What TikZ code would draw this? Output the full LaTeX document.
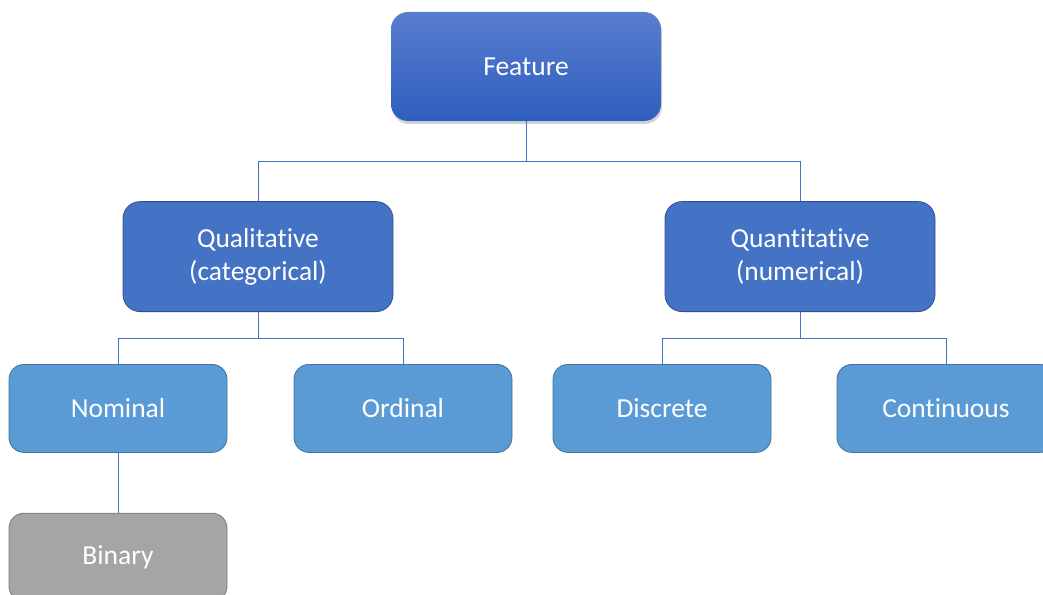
\documentclass[tikz,border=0pt]{standalone}
\usepackage{fontspec}
\setmainfont{Carlito}[Ligatures=NoCommon]
\usetikzlibrary{positioning,shadows}
\definecolor{topblue}{HTML}{5A7ECF}
\definecolor{botblue}{HTML}{2E5EBE}
\definecolor{midblue}{HTML}{4472C4}
\definecolor{midedge}{HTML}{2F528F}
\definecolor{lightblue}{HTML}{5B9BD5}
\definecolor{lightedge}{HTML}{41719C}
\definecolor{greyfill}{HTML}{A5A5A5}
\definecolor{greyedge}{HTML}{787878}
\tikzset{
  box/.style={rounded corners=17pt, text=white, align=center,
    font=\fontsize{27.5}{33}\selectfont, inner sep=0pt},
  topbox/.style={box, top color=topblue, bottom color=botblue, draw=none,
    minimum width=270pt, minimum height=109pt,
    drop shadow={shadow xshift=1pt, shadow yshift=-3pt, opacity=0.35}},
  catbox/.style={box, fill=midblue, draw=midedge, line width=0.8pt,
    minimum width=270pt, minimum height=110pt},
  leafbox/.style={box, fill=lightblue, draw=lightedge, line width=0.8pt,
    minimum width=218pt, minimum height=88pt, rounded corners=15pt},
  binbox/.style={leafbox, fill=greyfill, draw=greyedge}
}

\begin{document}
\begin{tikzpicture}[node distance={80pt}]
    \useasboundingbox (0,0) rectangle (1043pt,-594pt);
    \node[topbox] (1) at (526pt,-66.5pt) {Feature};
    \node[catbox] (2) [below=80pt of 1, xshift=-268pt] {Qualitative\\(categorical)};
    \node[catbox] (3) [below=80pt of 1, xshift=274pt] {Quantitative\\(numerical)};
    \node[leafbox] (4) [below=52pt of 2, xshift=-140pt] {Nominal};
    \node[leafbox] (5) [below=52pt of 2, xshift=145pt] {Ordinal};
    \node[leafbox] (6) [below=52pt of 3, xshift=-138pt] {Discrete};
    \node[leafbox] (7) [below=52pt of 3, xshift=146pt] {Continuous};
    \node[binbox] (8) [below=60pt of 4] {Binary};
\begin{scope}[draw=midblue, line width=0.8pt]
    \draw (1.south) -- ++(0,-40pt) -| (2.north);
    \draw (1.south) -- ++(0,-40pt) -| (3.north);
    \draw (2.south) -- ++(0,-26pt) -| (4.north);
    \draw (2.south) -- ++(0,-26pt) -| (5.north);
    \draw (3.south) -- ++(0,-26pt) -| (6.north);
    \draw (3.south) -- ++(0,-26pt) -| (7.north);
    \draw (4.south) -- (8.north);
\end{scope}
\end{tikzpicture}
\end{document}
